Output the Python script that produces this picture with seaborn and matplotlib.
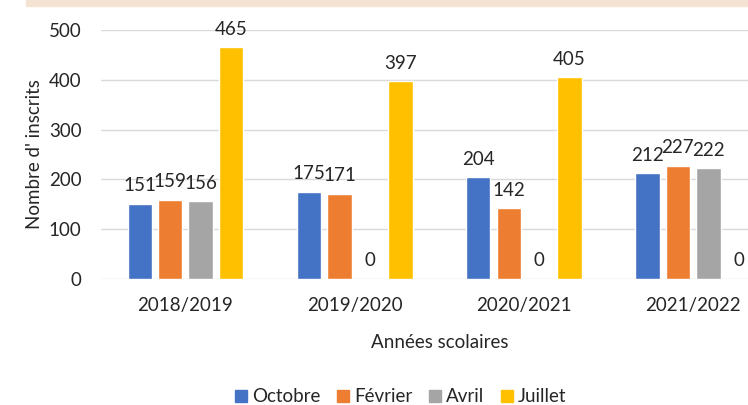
import numpy as np
import pandas as pd
import matplotlib
matplotlib.use('Agg')
import matplotlib.pyplot as plt
from matplotlib.patches import Rectangle, Patch
import seaborn as sns

# ── data ─────────────────────────────────────────────────────────
annees   = ["2018/2019", "2019/2020", "2020/2021", "2021/2022"]
mois     = ["Octobre", "Février", "Avril", "Juillet"]
octobre  = [151, 175, 204, 212]
fevrier  = [159, 171, 142, 227]
avril    = [156, 0, 0, 222]
juillet  = [465, 397, 405, 0]
couleurs = ["#4472C4", "#ED7D31", "#A5A5A5", "#FFC000"]

df = pd.DataFrame({
    "annee": annees * 4,
    "mois": np.repeat(mois, len(annees)),
    "inscrits": octobre + fevrier + avril + juillet,
})

sns.set_theme(style="white")
plt.rcParams['font.family'] = ['Lato', 'DejaVu Sans']
txt = "#262626"
fs = 13.5

fig = plt.figure(figsize=(7.48, 4.05), dpi=100)
fig.patches.append(Rectangle((26 / 748, 1 - 6 / 405), 1, 6 / 405,
                             transform=fig.transFigure, color="#F4E2D3", zorder=0))
ax = fig.add_axes([0.1348, 0.311, 0.905, 0.615])

sns.barplot(data=df, x="annee", y="inscrits", hue="mois", hue_order=mois,
            order=annees, palette=couleurs, width=0.72, gap=0.2,
            saturation=1, legend=False, ax=ax)

for c in ax.containers:
    ax.bar_label(c, padding=7, fontsize=fs, color=txt)

ax.set_ylim(0, 500)
ax.set_yticks(range(0, 501, 100))
ax.yaxis.grid(True, color="#D9D9D9", linewidth=1)
ax.set_axisbelow(True)
for s in ax.spines.values():
    s.set_visible(False)
ax.tick_params(axis="both", length=0, labelsize=fs, colors=txt)
ax.tick_params(axis="y", pad=14)
ax.tick_params(axis="x", pad=13)
ax.set_xlabel("Années scolaires", fontsize=fs, color=txt, labelpad=14)
ax.set_ylabel("Nombre d' inscrits", fontsize=fs, color=txt, labelpad=4)

handles = [Patch(color=c, label=m) for c, m in zip(couleurs, mois)]
fig.legend(handles=handles, loc="center", bbox_to_anchor=(401 / 748, 1 - 397 / 405),
           ncol=4, frameon=False, fontsize=fs, handlelength=0.6, handleheight=0.6,
           handletextpad=0.3, columnspacing=0.9, labelcolor=txt)

fig.savefig("out.png", dpi=100)
